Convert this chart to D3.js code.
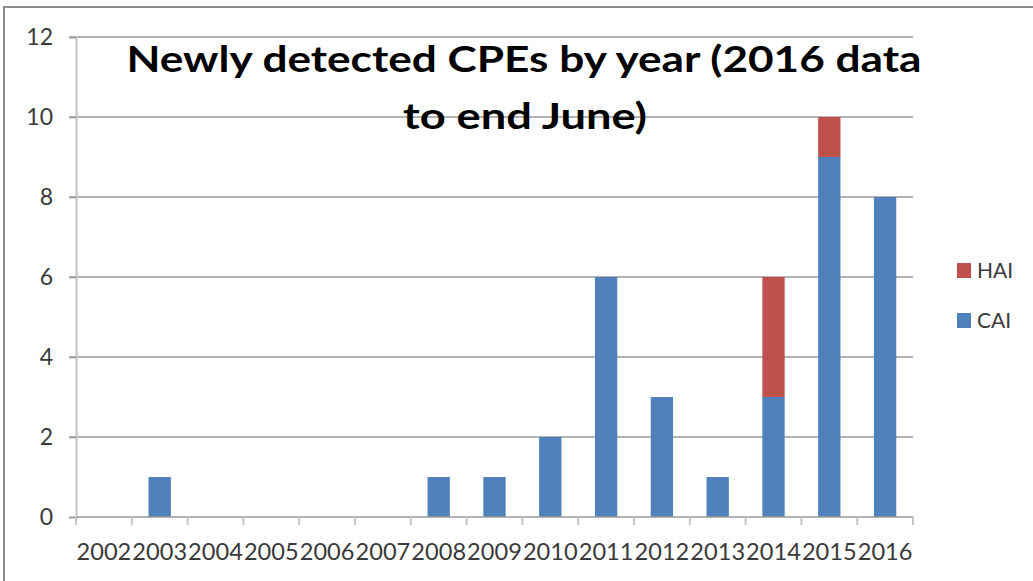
<!DOCTYPE html>
<html>
<head>
<meta charset="utf-8">
<script src="https://cdn.jsdelivr.net/npm/d3@7"></script>
<style>
  html, body { margin: 0; padding: 0; background: #fff; }
  svg { display: block; }
</style>
</head>
<body>
<svg id="chart" width="1033" height="581"></svg>
<script>
// Newly detected CPEs per year, split by acquisition type
const years = ["2002","2003","2004","2005","2006","2007","2008","2009","2010","2011","2012","2013","2014","2015","2016"];
const caiValues = [0, 1, 0, 0, 0, 0, 1, 1, 2, 6, 3, 1, 3, 9, 8];
const haiValues = [0, 0, 0, 0, 0, 0, 0, 0, 0, 0, 0, 0, 3, 1, 0];
const yTicks = [0, 2, 4, 6, 8, 10, 12];
const seriesNames = ["CAI", "HAI"];
const seriesColors = { CAI: "#4F81BD", HAI: "#C0504D" };
const titleLines = ["Newly detected CPEs by year (2016 data", "to end June)"];

const svg = d3.select("#chart");
const font = "Lato, 'Open Sans', 'Liberation Sans', sans-serif";

const W = 1033, H = 581;
const x0 = 76, x1 = 913, yTop = 37, yBot = 517;

// outer frame (top and left edges visible)
svg.append("path")
  .attr("d", `M4,${H} L4,7 L${W},7`)
  .attr("fill", "none").attr("stroke", "#8c8c8c").attr("stroke-width", 2);

const x = d3.scaleBand().domain(years).range([x0, x1]).paddingInner(0.6).paddingOuter(0.3);
const xb = d3.scaleBand().domain(years).range([x0, x1]);
const y = d3.scaleLinear().domain([0, 12]).range([yBot, yTop]);

const table = years.map((yr, i) => ({ year: yr, CAI: caiValues[i], HAI: haiValues[i] }));
const stacked = d3.stack().keys(seriesNames)(table);

// horizontal gridlines
svg.append("g").selectAll("line").data(yTicks.filter(t => t > 0)).join("line")
  .attr("x1", 69).attr("x2", x1)
  .attr("y1", d => y(d)).attr("y2", d => y(d))
  .attr("stroke", "#9a9a9a").attr("stroke-width", 1.5);

// y axis
const yAxis = d3.axisLeft(y).tickValues(yTicks).tickSize(7).tickPadding(16);
const gy = svg.append("g").attr("transform", `translate(${x0},0)`).call(yAxis);
gy.select(".domain").attr("stroke", "#c4c4c4").attr("stroke-width", 2);
gy.selectAll(".tick line").attr("stroke", "#9a9a9a").attr("stroke-width", 1.5);
gy.selectAll(".tick text")
  .attr("font-family", font).attr("font-size", 23).attr("fill", "#3a3a3a");

// bars
svg.append("g").selectAll("g").data(stacked).join("g")
  .attr("fill", d => seriesColors[d.key])
  .selectAll("rect").data(d => d.filter(s => s[1] > s[0])).join("rect")
  .attr("x", d => x(d.data.year))
  .attr("width", x.bandwidth())
  .attr("y", d => y(d[1]))
  .attr("height", d => y(d[0]) - y(d[1]));

// x axis with boundary ticks between categories
const gx = svg.append("g");
gx.append("line").attr("x1", x0).attr("x2", x1).attr("y1", yBot).attr("y2", yBot)
  .attr("stroke", "#9a9a9a").attr("stroke-width", 1.5);
const bounds = years.map(d => xb(d)).concat([x1]);
gx.selectAll("line.tk").data(bounds).join("line").attr("class", "tk")
  .attr("x1", d => d).attr("x2", d => d).attr("y1", yBot).attr("y2", yBot + 8)
  .attr("stroke", "#c4c4c4").attr("stroke-width", 2);
gx.selectAll("text").data(years).join("text")
  .attr("x", d => xb(d) + xb.bandwidth() / 2)
  .attr("y", 560)
  .attr("text-anchor", "middle")
  .attr("font-family", font).attr("font-size", 23).attr("fill", "#3a3a3a")
  .attr("textLength", xb.bandwidth() - 1).attr("lengthAdjust", "spacingAndGlyphs")
  .text(d => d);

// title
svg.append("text")
  .attr("x", 524).attr("y", 72).attr("text-anchor", "middle")
  .attr("font-family", font).attr("font-weight", "bold").attr("font-size", 37).attr("fill", "#000")
  .attr("textLength", 795).attr("lengthAdjust", "spacingAndGlyphs")
  .text(titleLines[0]);
svg.append("text")
  .attr("x", 525).attr("y", 129).attr("text-anchor", "middle")
  .attr("font-family", font).attr("font-weight", "bold").attr("font-size", 37).attr("fill", "#000")
  .attr("textLength", 244).attr("lengthAdjust", "spacingAndGlyphs")
  .text(titleLines[1]);

// legend
const legendItems = ["HAI", "CAI"];
const lg = svg.append("g").selectAll("g").data(legendItems).join("g")
  .attr("transform", (d, i) => `translate(957,${263 + i * 50})`);
lg.append("rect").attr("width", 14).attr("height", 15).attr("fill", d => seriesColors[d]);
lg.append("text").attr("x", 20).attr("y", 15)
  .attr("font-family", font).attr("font-size", 21).attr("fill", "#3a3a3a")
  .text(d => d);
</script>
</body>
</html>
